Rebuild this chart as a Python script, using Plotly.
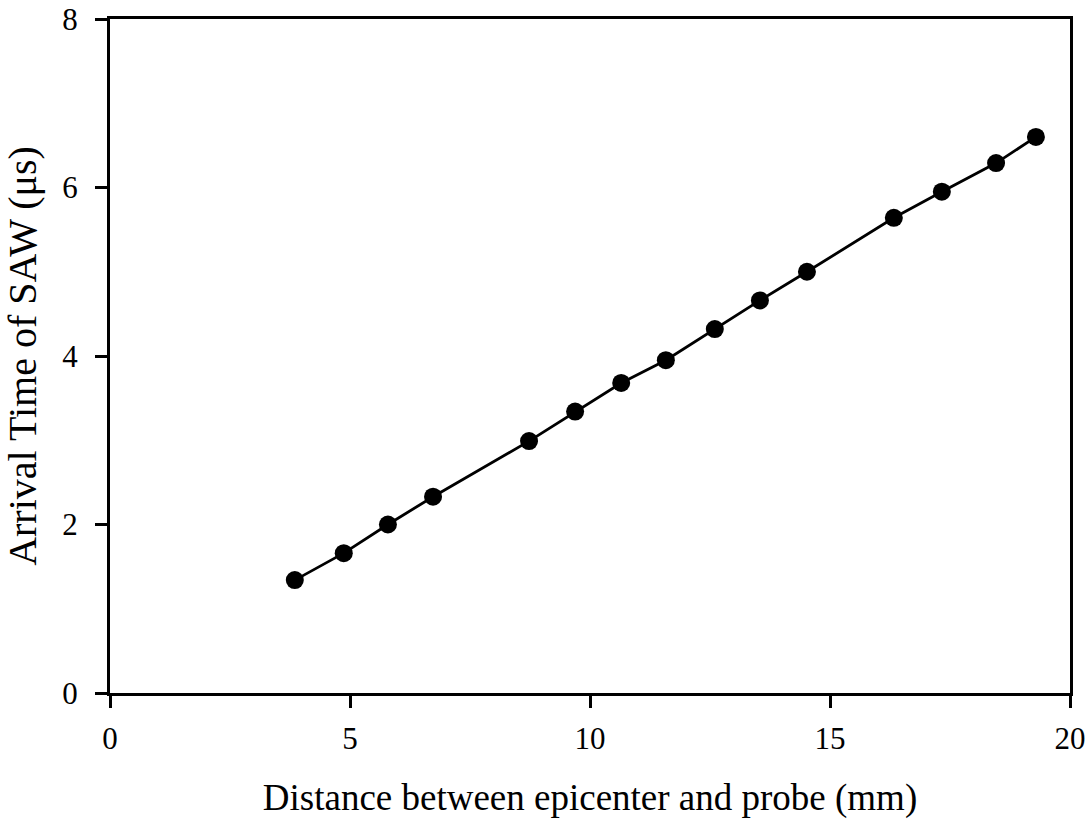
import plotly.graph_objects as go

distance_mm = [3.85, 4.87, 5.79, 6.73, 8.73, 9.69, 10.65, 11.58, 12.60, 13.54, 14.52, 16.33, 17.33, 18.46, 19.29]
arrival_us = [1.34, 1.66, 2.00, 2.33, 2.99, 3.34, 3.68, 3.95, 4.32, 4.66, 5.00, 5.64, 5.95, 6.29, 6.60]

x_ticks = [0, 5, 10, 15, 20]
y_ticks = [0, 2, 4, 6, 8]

FONT = "Liberation Serif, Times New Roman, serif"

fig = go.Figure()
fig.add_trace(go.Scatter(
    x=distance_mm, y=arrival_us, mode="lines+markers",
    line=dict(color="black", width=2.8),
    marker=dict(color="black", size=18),
    showlegend=False,
))

fig.update_layout(
    width=1092, height=819,
    margin=dict(l=110, r=22, t=19, b=126),
    paper_bgcolor="white", plot_bgcolor="white",
    font=dict(family=FONT, color="black"),
    xaxis=dict(
        range=[0, 20], tickvals=x_ticks, ticks="outside", ticklen=12, tickwidth=2.5,
        tickcolor="black", showline=True, linecolor="black", linewidth=3, mirror=True,
        showgrid=False, zeroline=False, tickfont=dict(size=31, family=FONT),
        ticklabelstandoff=4, automargin=False,
        title=dict(text="Distance between epicenter and probe (mm)", font=dict(size=37, family=FONT), standoff=30),
    ),
    yaxis=dict(
        range=[0, 8], tickvals=y_ticks, ticks="outside", ticklen=12, tickwidth=2.5,
        tickcolor="black", showline=True, linecolor="black", linewidth=3, mirror=True,
        showgrid=False, zeroline=False, tickfont=dict(size=31, family=FONT),
        ticklabelstandoff=11, automargin=False,
        title=dict(text="Arrival Time of SAW (μs)", font=dict(size=40, family=FONT), standoff=20),
    ),
)

fig.write_html("out.html")
